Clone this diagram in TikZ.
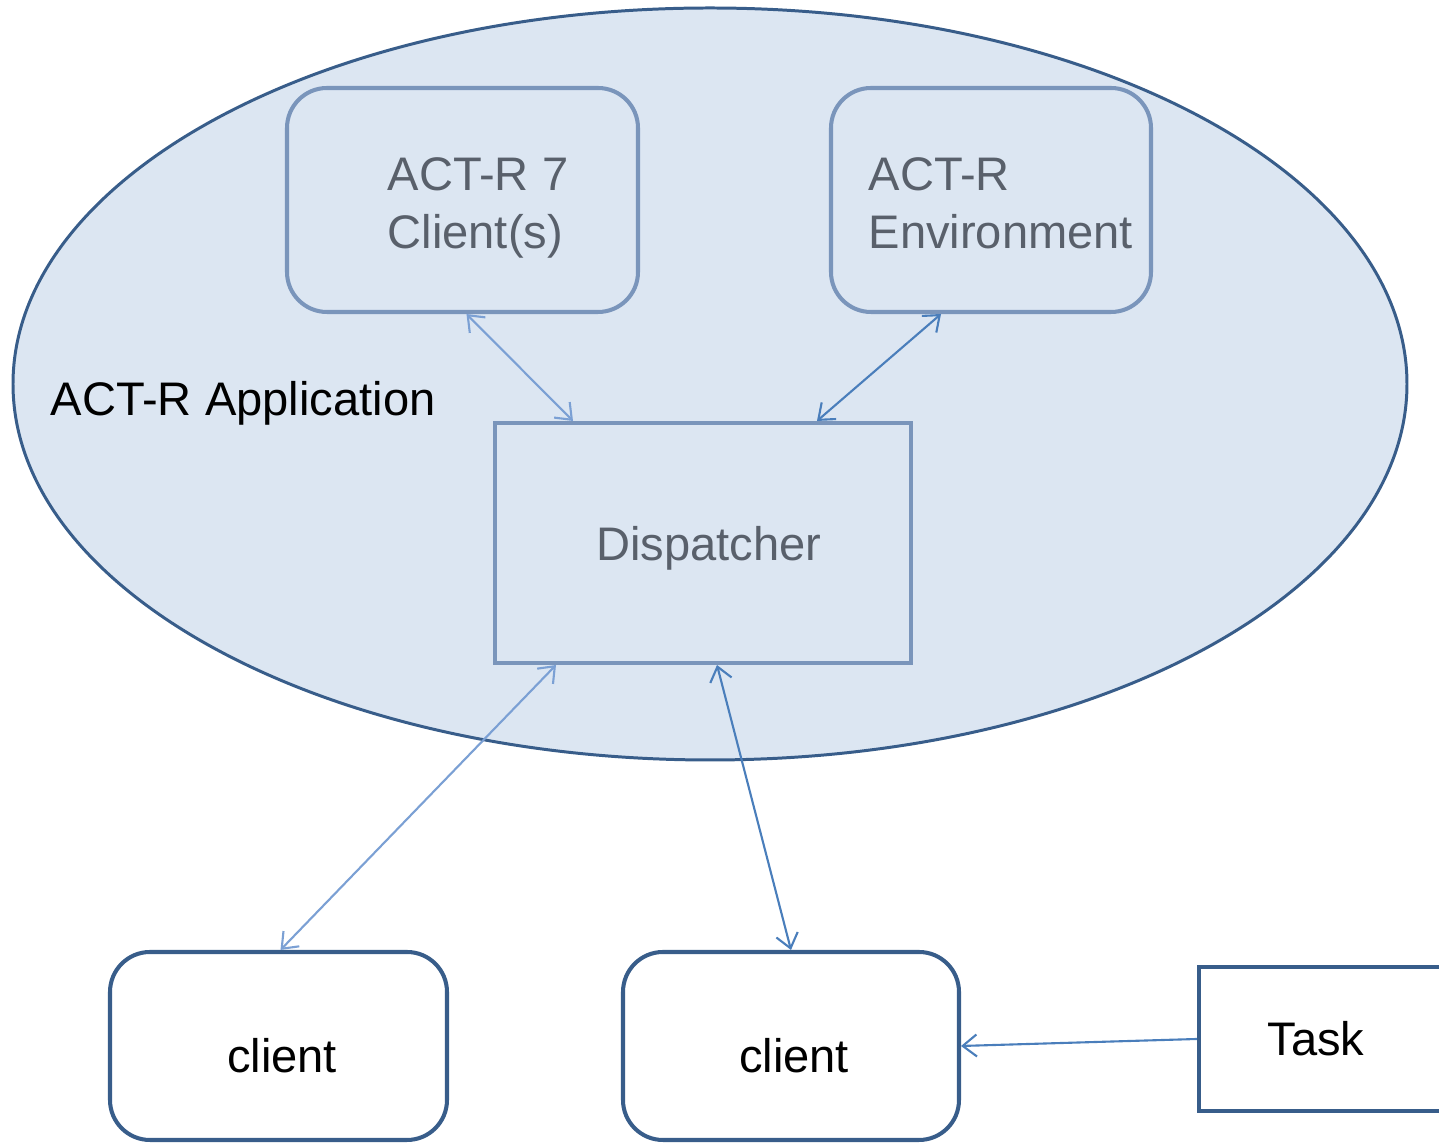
\documentclass[tikz,border=0pt]{standalone}
\usepackage{fontspec}
\setmainfont{Liberation Sans}
\usepackage{xcolor}
\usetikzlibrary{arrows.meta,shapes.geometric}
\definecolor{appfill}{HTML}{DCE6F2}
\definecolor{appline}{HTML}{385D8A}
\definecolor{innerline}{HTML}{7A95BB}
\definecolor{innertext}{HTML}{59606B}
\definecolor{linklight}{HTML}{7BA0D4}
\definecolor{linkdark}{HTML}{4A7EBB}
\tikzset{
  inbox/.style={draw=innerline,line width=1.15pt,fill=appfill,inner sep=0pt},
  intext/.style={text=innertext,align=left,inner sep=0pt},
  outbox/.style={draw=appline,line width=1.15pt,fill=white,inner sep=0pt},
}
\begin{document}
\begin{tikzpicture}[font=\fontsize{13.4}{16.5}\selectfont,>={Straight Barb[length=1.4mm,width=2.2mm]}]
\useasboundingbox (0,0) rectangle (14.39,11.43);
\node[ellipse,draw=appline,line width=0.85pt,fill=appfill,minimum width=13.94cm,minimum height=7.52cm] (app) at (7.10,7.59) {};
\node[anchor=west,inner sep=0pt] (applabel) at (0.50,7.40) {ACT-R Application};
\node[inbox,rounded corners=0.4cm,minimum width=3.51cm,minimum height=2.24cm] (clients) at (4.625,9.43) {};
\node[intext,anchor=west] (clientstext) at (3.87,9.35) {ACT-R 7\\Client(s)};
\node[inbox,rounded corners=0.4cm,minimum width=3.20cm,minimum height=2.24cm] (env) at (9.91,9.43) {};
\node[intext,anchor=west] (envtext) at (8.68,9.40) {ACT-R\\Environment};
\node[inbox,minimum width=4.16cm,minimum height=2.40cm] (disp) at (7.03,6.00) {};
\node[intext] (disptext) at (7.09,5.95) {Dispatcher};
\node[outbox,rounded corners=0.4cm,minimum width=3.37cm,minimum height=1.88cm] (cliA) at (2.785,0.97) {};
\node[inner sep=0pt] (cliAtext) at (2.82,0.87) {client};
\node[outbox,rounded corners=0.4cm,minimum width=3.36cm,minimum height=1.88cm] (cliB) at (7.91,0.97) {};
\node[inner sep=0pt] (cliBtext) at (7.94,0.87) {client};
\node[outbox,minimum width=2.5cm,minimum height=1.44cm] (task) at (13.24,1.04) {};
\node[inner sep=0pt] (tasktext) at (13.16,1.04) {Task};
% links
\draw[<->,linklight,line width=0.6pt] ([xshift=0.04cm]clients.south) -- ([xshift=-1.3cm]disp.north);
\draw[<->,linkdark,line width=0.6pt] ([xshift=-0.5cm]env.south) -- ([xshift=1.14cm]disp.north);
\draw[<->,linklight,line width=0.6pt] ([xshift=-1.47cm]disp.south) -- ([xshift=0.02cm]cliA.north);
\draw[<->,linkdark,line width=0.6pt] ([xshift=0.14cm]disp.south) -- (cliB.north);
\draw[->,linkdark,line width=0.6pt] (task.west) -- (cliB.east);
\end{tikzpicture}
\end{document}
